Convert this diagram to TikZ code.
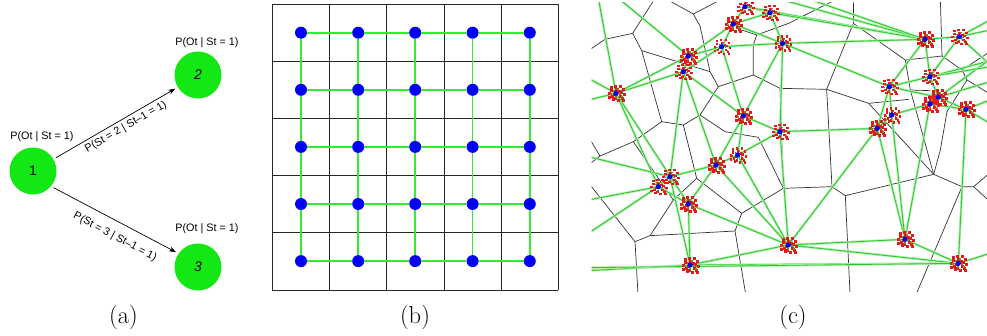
\documentclass[tikz,border=0pt]{standalone}
\usepackage{fontspec}
\newfontfamily\arialfont{Liberation Sans}
\usetikzlibrary{arrows.meta}
\definecolor{stategreen}{RGB}{20,232,20}
\definecolor{dotblue}{RGB}{0,0,245}
\definecolor{gridgreen}{RGB}{50,235,50}
\definecolor{delcore}{RGB}{40,200,40}
\definecolor{delhalo}{RGB}{175,238,175}
\definecolor{clred}{RGB}{228,25,25}
\definecolor{clolive}{RGB}{150,120,30}
\newcommand\drawcluster[1]{%
  \foreach \dx/\dy in {-6/-7,-2/-8,3/-8,6/-5,7/0,5/4,1/6,-4/5,-8/-1,-8/3,2/-3,-3/0,6/6,-6/-4,-1/-5,3/2,-5/2,-2/4,4/-2}
    {\fill[clred] ([shift={(\dx,\dy)}]#1) rectangle ++(2.6,2.6);}
  \foreach \dx/\dy in {-3/-3,3/0,-1/3,1/-5,-6/0,5/3}
    {\fill[clolive] ([shift={(\dx,\dy)}]#1) rectangle ++(1.8,1.8);}
  \fill[dotblue] (#1) circle (2.6);
}
\begin{document}
\begin{tikzpicture}[x=1pt,y=-1pt,
  state/.style={circle, fill=stategreen, minimum size=47pt, inner sep=0pt, outer sep=3pt,
    font=\arialfont\fontsize{14}{16}\selectfont},
  lbl/.style={font=\arialfont\fontsize{10.8}{12}\selectfont, inner sep=0pt},
  arr/.style={-{Stealth[length=7pt,width=5pt]}, line width=0.7pt},
  gridline/.style={draw=black!85, line width=0.8pt},
  dot/.style={circle, fill=dotblue, minimum size=12pt, inner sep=0pt},
  gedge/.style={draw=gridgreen, line width=1.7pt},
  vor/.style={draw=black!80, line width=0.7pt},
  del/.style={draw=delcore, line width=0.8pt, preaction={draw=delhalo, line width=2.4pt}},
  captext/.style={font=\fontsize{24.5}{28}\selectfont, inner sep=0pt}]
\useasboundingbox (0,0) rectangle (987,335);

% ---------- panel (a)
\node[state] (n1) at (33,171) {1};
\node[state] (n2) at (198,75) {\itshape 2};
\node[state] (n3) at (198,267) {\itshape 3};
\node[lbl] (o1) at (42,137) {P(Ot | St = 1)};
\node[lbl] (o2) at (207,43) {P(Ot | St = 1)};
\node[lbl] (o3) at (207,229) {P(Ot | St = 1)};
\draw[arr] (n1.30) -- (n2.211);
\draw[arr] (n1.-39) -- (n3.146);
\node[lbl, rotate=30] (t12) at (126,127) {P(St = 2 | St–1 = 1)};
\node[lbl, rotate=-28] (t13) at (115,237) {P(St = 3 | St–1 = 1)};

% ---------- panel (b)
\foreach \i in {0,...,5}{
  \draw[gridline] (272.3+57.2*\i,4) -- (272.3+57.2*\i,290);
  \draw[gridline] (272.3,4+57.2*\i) -- (558.3,4+57.2*\i);
}
\foreach \i/\xx in {0/301,1/358.2,2/415.2,3/472.6,4/529.8}{
  \foreach \j/\yy in {0/32.7,1/89.8,2/146.9,3/204,4/261.1}{
    \node[dot] (d\i\j) at (\xx,\yy) {};
  }
}
\foreach \i in {0,...,4}{
  \foreach \j in {0,...,3}{
    \pgfmathtruncatemacro\k{\j+1}
    \draw[gedge] (d\i\j) -- (d\i\k);
    \draw[gedge] (d\j\i) -- (d\k\i);
  }
}

% ---------- panel (c)
\begin{scope}
\clip (591.7,2.7) rectangle (987,291.7);
\begin{scope}[x=0.33333pt,y=-0.33333pt,shift={(590pt,0pt)}]
  \foreach \n/\xx/\yy in {1/465/20,2/540/38,3/430/72,4/395/140,5/578/130,6/295/168,7/280/215,
     8/78/280,9/460/348,10/570/395,11/443/465,12/378/495,13/240/530,14/205/560,15/295/612,
     16/595/735,17/300/795,18/1005/118,19/1108/110,20/1190/185,21/898/260,22/1020/230,
     23/1045/292,24/1020/312,25/1128/328,26/905/345,27/862/385,28/945/718,29/1105/790}
    {\coordinate (c\n) at (\xx,\yy);}
  \foreach \n/\xx/\yy in {1/25/-5,2/85/-5,3/-5/300,4/-5/235,5/-5/470,6/-5/700,7/-5/600,
     8/-5/812,9/-5/803,10/560/-5,11/650/-5,12/1200/60,13/1200/90,14/1200/200,15/1200/245,
     16/1200/300,17/1200/370,18/1200/760}
    {\coordinate (f\n) at (\xx,\yy);}
  % Voronoi edges
  \draw[vor] (195,-5) -- (128,100) -- (45,118) -- (-5,152);
  \draw[vor] (128,100) -- (155,152) -- (215,365) -- (130,425) -- (30,468) -- (-5,410);
  \draw[vor] (30,468) -- (-5,495);
  \draw[vor] (155,152) -- (360,215);
  \draw[vor] (225,-5) -- (310,42) -- (400,-5);
  \draw[vor] (310,42) -- (330,78) -- (360,215) -- (385,260) -- (490,225) -- (570,265) -- (710,268);
  \draw[vor] (385,260) -- (330,345) -- (280,375) -- (215,365);
  \draw[vor] (330,345) -- (405,395) -- (505,412) -- (580,565);
  \draw[vor] (490,225) -- (490,135) -- (500,105) -- (596,70) -- (745,-5);
  \draw[vor] (500,105) -- (455,90);
  \draw[vor] (280,375) -- (320,535) -- (455,640) -- (435,693) -- (470,900);
  \draw[vor] (455,640) -- (580,565) -- (570,265);
  \draw[vor] (130,425) -- (250,600);
  \draw[vor] (320,535) -- (250,600) -- (180,707) -- (135,725) -- (-5,548);
  \draw[vor] (135,725) -- (145,900);
  \draw[vor] (180,707) -- (435,693);
  \draw[vor] (580,565) -- (726,560);
  \draw[vor] (710,268) -- (790,70) -- (791,-5);
  \draw[vor] (710,268) -- (720,450) -- (726,560) -- (766,587) -- (1031,523);
  \draw[vor] (766,587) -- (781,900);
  \draw[vor] (790,70) -- (946,180) -- (1056,168) -- (1116,210) -- (1200,155);
  \draw[vor] (1056,168) -- (1051,-5);
  \draw[vor] (946,180) -- (961,270) -- (1031,523);
  \draw[vor] (961,270) -- (1021,272);
  \draw[vor] (710,268) -- (836,310) -- (956,298);
  \draw[vor] (836,310) -- (1031,523);
  \draw[vor] (1116,210) -- (1131,240) -- (1200,282);
  \draw[vor] (1131,240) -- (1071,335) -- (1051,450) -- (1031,523);
  \draw[vor] (1031,523) -- (1116,560) -- (1151,560) -- (1200,518);
  \draw[vor] (1116,560) -- (971,900);
  \draw[vor] (1151,560) -- (1200,605);
  % Delaunay-like green edges
  \foreach \a/\b in {8/7,8/6,8/14,8/15,6/4,6/3,6/7,7/4,7/9,7/12,7/13,4/9,4/5,4/3,3/1,3/2,1/2,
     3/5,2/5,5/9,5/10,5/21,5/18,1/18,2/18,9/10,9/11,9/12,10/11,10/16,10/27,11/12,11/16,12/13,
     12/15,12/16,13/14,14/15,15/17,15/16,13/17,17/16,17/29,16/28,16/29,16/27,27/28,26/28,27/26,
     27/21,26/24,21/22,21/23,21/26,22/23,22/18,18/19,18/21,24/23,24/25,23/25,25/29,24/28,28/29,
     19/22,19/20,22/20,23/20}
    {\draw[del] (c\a) -- (c\b);}
  \foreach \n/\b in {1/8,2/6,3/8,4/8,5/13,6/14,7/14,8/17,9/29,10/18,11/18,12/19,13/19,14/22,
     15/23,16/25,17/25,18/29}
    {\draw[del] (f\n) -- (c\b);}
\end{scope}
\foreach \n in {1,...,19,21,22,23,24,25,26,27,28,29}{\drawcluster{c\n}}
\end{scope}

% ---------- captions
\node[captext] (capa) at (123.5,317) {(a)};
\node[captext] (capb) at (415,317) {(b)};
\node[captext] (capc) at (793,317) {(c)};
\end{tikzpicture}
\end{document}
